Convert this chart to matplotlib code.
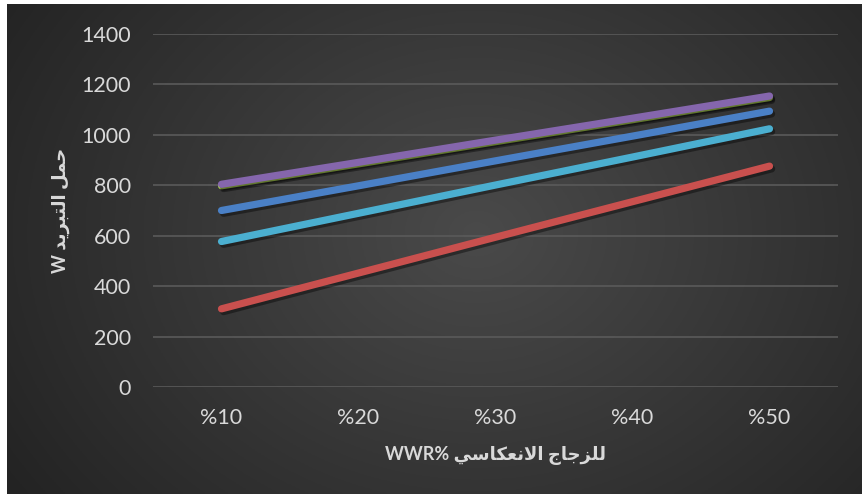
import numpy as np
import matplotlib
matplotlib.use("Agg")
import matplotlib.pyplot as plt
import matplotlib.patheffects as pe

plt.rcParams['font.family'] = ['Lato', 'DejaVu Sans']

# data
categories = ['%10', '%20', '%30', '%40', '%50']
blue = [700, 798, 897, 995, 1094]
red = [310, 452, 594, 735, 876]
green = [798, 885, 973, 1060, 1148]
purple = [804, 891, 979, 1066, 1154]
cyan = [577, 689, 801, 912, 1024]

yticks = [0, 200, 400, 600, 800, 1000, 1200, 1400]

# arabic presentation forms: (isolated, final, initial, medial)
FORMS = {
    'ا': ('\uFE8D', '\uFE8E', None, None),
    'ب': ('\uFE8F', '\uFE90', '\uFE91', '\uFE92'),
    'ت': ('\uFE95', '\uFE96', '\uFE97', '\uFE98'),
    'ج': ('\uFE9D', '\uFE9E', '\uFE9F', '\uFEA0'),
    'ح': ('\uFEA1', '\uFEA2', '\uFEA3', '\uFEA4'),
    'د': ('\uFEA9', '\uFEAA', None, None),
    'ر': ('\uFEAD', '\uFEAE', None, None),
    'ز': ('\uFEAF', '\uFEB0', None, None),
    'س': ('\uFEB1', '\uFEB2', '\uFEB3', '\uFEB4'),
    'ع': ('\uFEC9', '\uFECA', '\uFECB', '\uFECC'),
    'ك': ('\uFED9', '\uFEDA', '\uFEDB', '\uFEDC'),
    'ل': ('\uFEDD', '\uFEDE', '\uFEDF', '\uFEE0'),
    'م': ('\uFEE1', '\uFEE2', '\uFEE3', '\uFEE4'),
    'ن': ('\uFEE5', '\uFEE6', '\uFEE7', '\uFEE8'),
    'ي': ('\uFEF1', '\uFEF2', '\uFEF3', '\uFEF4'),
}


def arabic(text):
    # crude shaping + reverse, matplotlib has no bidi support
    out = []
    i = 0
    while i < len(text):
        c = text[i]
        if c not in FORMS:
            out.append(c)
            i += 1
            continue
        prev = text[i-1] if i > 0 else None
        join_prev = prev in FORMS and FORMS[prev][2] is not None
        if c == 'ل' and i + 1 < len(text) and text[i+1] == 'ا':
            out.append('\uFEFC' if join_prev else '\uFEFB')
            i += 2
            continue
        nxt = text[i+1] if i + 1 < len(text) else None
        join_next = FORMS[c][2] is not None and nxt in FORMS
        iso, fin, ini, med = FORMS[c]
        if join_prev and join_next:
            out.append(med)
        elif join_prev:
            out.append(fin)
        elif join_next:
            out.append(ini)
        else:
            out.append(iso)
        i += 1
    return ''.join(out)[::-1]


W, H = 865, 498
fig = plt.figure(figsize=(W/100, H/100), dpi=100, facecolor='white')

# dark radial gradient background
bg = fig.add_axes([7/W, 4/H, 855/W, 490/H], zorder=-5)
gx, gy = np.meshgrid(np.linspace(0, 855, 400), np.linspace(0, 490, 240))
r = np.sqrt(((gx - 470) / 520) ** 2 + ((gy - 230) / 420) ** 2)
shade = np.clip(0.29 - 0.14 * r, 0.14, 0.29)
bg.imshow(np.dstack([shade, shade, shade]), aspect='auto', extent=[0, 1, 0, 1])
bg.axis('off')

ax = fig.add_axes([153/W, (H-387)/H, 685/W, (387-34)/H])
ax.set_facecolor('none')
x = np.arange(len(categories))

shadow = [pe.SimpleLineShadow(offset=(1.5, -2), shadow_color='black', alpha=0.4),
          pe.Normal()]
series = [(blue, '#4a80c6'), (red, '#c9504e'), (green, '#a4c84e'),
          (purple, '#8566ad'), (cyan, '#4bafd0')]
for vals, col in series:
    ax.plot(x, vals, color=col, lw=5.2, solid_capstyle='round',
            path_effects=shadow)

ax.set_xlim(-0.5, 4.5)
ax.set_ylim(0, 1400)
ax.set_yticks(yticks)
ax.set_xticks(x)
ax.set_xticklabels(categories)
ax.grid(axis='y', color='#5a5a5a', lw=1.2)
ax.set_axisbelow(True)
for s in ax.spines.values():
    s.set_visible(False)
ax.tick_params(length=0, colors='#d9d9d9', labelsize=15.5)
ax.tick_params(axis='y', pad=16)
ax.tick_params(axis='x', pad=15)

ax.set_xlabel('WWR% ' + arabic('للزجاج الانعكاسي'), color='#d9d9d9',
              fontsize=13, fontweight='bold', labelpad=13)
ax.set_ylabel('W ' + arabic('حمل التبريد'), color='#d9d9d9',
              fontsize=13, fontweight='bold', labelpad=8)

fig.savefig('out.png', dpi=100, facecolor='white')
